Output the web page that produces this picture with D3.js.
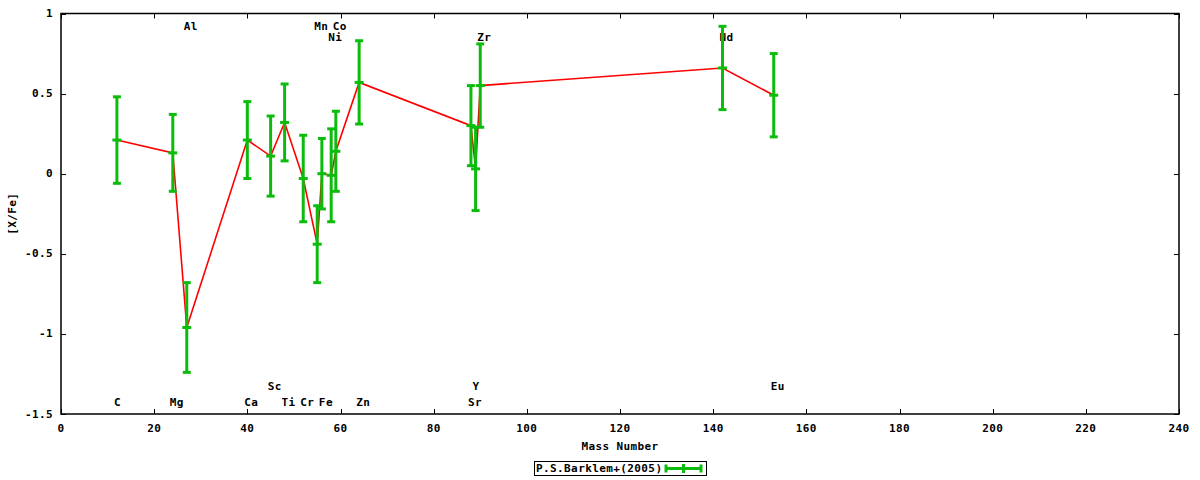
<!DOCTYPE html>
<html>
<head>
<meta charset="utf-8">
<script src="https://cdn.jsdelivr.net/npm/d3@7"></script>
<style>
  html, body { margin: 0; padding: 0; background: #fff; }
  svg { display: block; }
  text { font-family: "DejaVu Sans Mono", "Liberation Mono", monospace; font-weight: bold; font-size: 11px; fill: #000; letter-spacing: 0.4px; }
</style>
</head>
<body>
<svg id="chart" width="1200" height="480"></svg>
<script>
// ---- data ----
const elements = ["C","Mg","Al","Ca","Sc","Ti","Cr","Mn","Fe","Ni","Co","Zn","Sr","Y","Zr","Nd","Eu"];
const massNumber = [12,24,27,40,45,48,52,55,56,58,59,64,88,89,90,142,153];
const xFe = [0.21,0.13,-0.96,0.21,0.11,0.32,-0.03,-0.44,0.00,-0.01,0.14,0.57,0.30,0.03,0.55,0.66,0.49];
const xFeErr = [0.27,0.24,0.28,0.24,0.25,0.24,0.27,0.24,0.22,0.29,0.25,0.26,0.25,0.26,0.26,0.26,0.26];
const labelY = [-1.43,-1.43,0.92,-1.43,-1.33,-1.43,-1.43,0.92,-1.43,0.85,0.92,-1.43,-1.43,-1.33,0.85,0.85,-1.33];
const xTicks = [0,20,40,60,80,100,120,140,160,180,200,220,240];
const yTicks = [-1.5,-1,-0.5,0,0.5,1];
const xTitle = "Mass Number";
const yTitle = "[X/Fe]";
const seriesName = "P.S.Barklem+(2005)";

// ---- layout ----
const plot = { left: 61, right: 1179, top: 13.5, bottom: 414 };
const green = "#0cbc0c";
const red = "#ff0000";

const svg = d3.select("#chart");
const x = d3.scaleLinear().domain([0, 240]).range([plot.left, plot.right]);
const y = d3.scaleLinear().domain([-1.5, 1]).range([plot.bottom, plot.top]);

const pts = elements.map((e, i) => ({ el: e, m: massNumber[i], v: xFe[i], err: xFeErr[i], ly: labelY[i] }));

// ticks (inward, mirrored)
const tickLen = 5;
const g = svg.append("g");
xTicks.forEach(t => {
  const px = Math.round(x(t)) + 0.5;
  g.append("line").attr("x1", px).attr("x2", px).attr("y1", plot.bottom).attr("y2", plot.bottom - tickLen).attr("stroke", "#000");
  g.append("line").attr("x1", px).attr("x2", px).attr("y1", plot.top).attr("y2", plot.top + tickLen).attr("stroke", "#000");
  g.append("text").attr("x", x(t)).attr("y", 428).attr("text-anchor", "middle").attr("dominant-baseline", "central").text(t);
});
yTicks.forEach(t => {
  const py = Math.round(y(t)) + 0.5;
  g.append("line").attr("x1", plot.left).attr("x2", plot.left + tickLen).attr("y1", py).attr("y2", py).attr("stroke", "#000");
  g.append("line").attr("x1", plot.right).attr("x2", plot.right - tickLen).attr("y1", py).attr("y2", py).attr("stroke", "#000");
  g.append("text").attr("x", 53).attr("y", y(t)).attr("text-anchor", "end").attr("dominant-baseline", "central").text(t);
});

// frame
svg.append("rect")
  .attr("x", plot.left).attr("y", plot.top)
  .attr("width", plot.right - plot.left).attr("height", plot.bottom - plot.top)
  .attr("fill", "none").attr("stroke", "#000").attr("stroke-width", 1.5);

// axis titles
svg.append("text").attr("x", x(120)).attr("y", 446).attr("text-anchor", "middle").attr("dominant-baseline", "central").text(xTitle);
svg.append("text").attr("transform", `translate(12,${(plot.top + plot.bottom) / 2}) rotate(-90)`)
  .attr("text-anchor", "middle").attr("dominant-baseline", "central").text(yTitle);

// element labels
svg.append("g").selectAll("text").data(pts).join("text")
  .attr("x", d => x(d.m) - 3).attr("y", d => y(d.ly))
  .attr("dominant-baseline", "central").text(d => d.el);

// red line
const line = d3.line().x(d => x(d.m)).y(d => y(d.v));
svg.append("path").datum(pts).attr("d", line).attr("fill", "none").attr("stroke", red).attr("stroke-width", 1.6);

// error bars
const eb = svg.append("g").attr("stroke", green).attr("stroke-width", 3).attr("fill", "none");
pts.forEach(d => {
  const px = x(d.m);
  eb.append("line").attr("x1", px).attr("x2", px).attr("y1", y(d.v - d.err)).attr("y2", y(d.v + d.err));
  eb.append("line").attr("x1", px - 4).attr("x2", px + 4).attr("y1", y(d.v - d.err)).attr("y2", y(d.v - d.err));
  eb.append("line").attr("x1", px - 4).attr("x2", px + 4).attr("y1", y(d.v + d.err)).attr("y2", y(d.v + d.err));
  eb.append("line").attr("x1", px - 4.5).attr("x2", px + 4.5).attr("y1", y(d.v)).attr("y2", y(d.v));
});

// legend
const lg = svg.append("g");
lg.append("rect").attr("x", 534.5).attr("y", 461.5).attr("width", 172).attr("height", 14)
  .attr("fill", "none").attr("stroke", "#000").attr("stroke-width", 1);
lg.append("text").attr("x", 536).attr("y", 468.5).attr("dominant-baseline", "central").text(seriesName);
const ly0 = 468.5;
lg.append("line").attr("x1", 666).attr("x2", 701).attr("y1", ly0).attr("y2", ly0).attr("stroke", green).attr("stroke-width", 3);
[666, 701].forEach(cx => lg.append("line").attr("x1", cx).attr("x2", cx).attr("y1", ly0 - 4).attr("y2", ly0 + 4).attr("stroke", green).attr("stroke-width", 3));
lg.append("line").attr("x1", 683.5).attr("x2", 683.5).attr("y1", ly0 - 4.5).attr("y2", ly0 + 4.5).attr("stroke", green).attr("stroke-width", 3);
</script>
</body>
</html>
